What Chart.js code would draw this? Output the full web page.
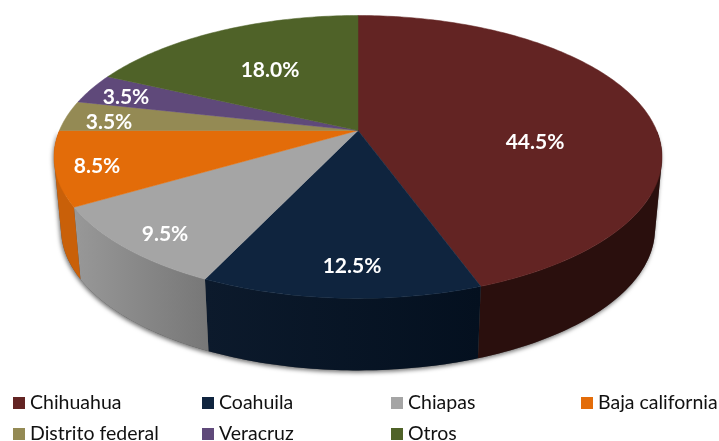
<!DOCTYPE html>
<html>
<head>
<meta charset="utf-8">
<style>
  html, body { margin: 0; padding: 0; background: #fff; }
  canvas { display: block; }
</style>
<script src="https://cdn.jsdelivr.net/npm/chart.js@4/dist/chart.umd.min.js"></script>
</head>
<body>
<canvas id="pie" width="719" height="441"></canvas>
<script>
// Datos
const categories = ['Chihuahua', 'Coahuila', 'Chiapas', 'Baja california', 'Distrito federal', 'Veracruz', 'Otros'];
const shares = [44.5, 12.5, 9.5, 8.5, 3.5, 3.5, 18.0];
const topColors = ['#632423', '#0F243E', '#A5A5A5', '#E36C09', '#948A54', '#5F497A', '#4F6228'];
const wallLeft = ['#2A0F0D', '#0C1A2C', '#989898', '#C96009', '#6E6640', '#47365B', '#3A481D'];
const wallRight = ['#2A0F0D', '#04101F', '#777777', '#C96009', '#6E6640', '#47365B', '#3A481D'];

// Posicion de cada etiqueta y de la leyenda (px)
const labelAnchors = [[535, 142], [352, 266], [165, 234], [97, 166], [109, 122], [126, 97], [270, 70]];
const legendCols = [13, 202, 391, 581, 13, 202, 391];
const legendRows = [403, 403, 403, 403, 434, 434, 434];

// Proyeccion en perspectiva del disco unitario
const CX = 358, CY = 130.5, F = 298.6, G = 136.5, K = 0.187;
function project(a) {
    const u = Math.cos(a), v = Math.sin(a), w = 1 - K * v;
    return { x: CX + F * u / w, y: CY + G * v / w };
}
// disco inferior: misma forma, algo mas estrecho y desplazado hacia abajo
function dropped(p) {
    return { x: CX + (p.x - CX) * 0.977, y: p.y + 72 };
}
function arcPoints(start, end) {
    const n = Math.max(2, Math.ceil((end - start) * 60));
    const pts = [];
    for (let i = 0; i <= n; i++) pts.push(project(start + (end - start) * i / n));
    return pts;
}
function tracePoly(ctx, pts) {
    ctx.beginPath();
    pts.forEach((p, i) => i ? ctx.lineTo(p.x, p.y) : ctx.moveTo(p.x, p.y));
    ctx.closePath();
}
// La pared se traza como tiras con la misma orientacion para que
// no se cancelen en los extremos donde el borde da la vuelta
function traceWall(ctx, rim) {
    ctx.beginPath();
    for (let j = 0; j < rim.length - 1; j++) {
        let q = [rim[j], rim[j + 1], dropped(rim[j + 1]), dropped(rim[j])];
        let area = 0;
        q.forEach((p, n) => {
            const r = q[(n + 1) % 4];
            area += p.x * r.y - r.x * p.y;
        });
        if (area < 0) q = q.reverse();
        q.forEach((p, n) => n ? ctx.lineTo(p.x, p.y) : ctx.moveTo(p.x, p.y));
        ctx.closePath();
    }
}

const pie3d = {
    id: 'pie3d',
    beforeDatasetsDraw(chart) {
        const ctx = chart.ctx;
        const arcs = chart.getDatasetMeta(0).data;
        const visible = arcs.map(arc => {
            // solo la parte frontal del borde
            const lo = Math.max(arc.startAngle, 0), hi = Math.min(arc.endAngle, Math.PI);
            return hi > lo ? [lo, hi] : null;
        });

        // sombra bajo la pared
        ctx.save();
        ctx.shadowColor = 'rgba(0,0,0,0.55)';
        ctx.shadowBlur = 4;
        ctx.shadowOffsetX = -1;
        ctx.shadowOffsetY = 2;
        ctx.fillStyle = '#555';
        traceWall(ctx, arcPoints(0, Math.PI));
        ctx.fill();
        ctx.restore();

        // paredes
        visible.forEach((range, i) => {
            if (!range) return;
            const top = arcPoints(range[0], range[1]);
            const xs = top.concat(top.map(dropped)).map(p => p.x);
            const g = ctx.createLinearGradient(Math.min(...xs), 0, Math.max(...xs), 0);
            g.addColorStop(0, wallLeft[i]);
            g.addColorStop(1, wallRight[i]);
            traceWall(ctx, top);
            ctx.fillStyle = g;
            ctx.fill();
        });

        // cara superior
        arcs.forEach((arc, i) => {
            const pts = [{ x: CX, y: CY }].concat(arcPoints(arc.startAngle, arc.endAngle));
            tracePoly(ctx, pts);
            ctx.fillStyle = topColors[i];
            ctx.strokeStyle = topColors[i];
            ctx.lineWidth = 0.5;
            ctx.fill();
            ctx.stroke();
        });

        // etiquetas
        ctx.save();
        ctx.font = 'bold 21px Lato';
        ctx.fillStyle = '#fff';
        ctx.textAlign = 'center';
        ctx.textBaseline = 'middle';
        shares.forEach((s, i) => {
            ctx.fillText(s.toFixed(1) + '%', labelAnchors[i][0], labelAnchors[i][1]);
        });
        ctx.restore();

        // leyenda
        ctx.save();
        ctx.font = '19.5px Lato';
        ctx.textAlign = 'left';
        ctx.textBaseline = 'middle';
        categories.forEach((name, i) => {
            ctx.fillStyle = topColors[i];
            ctx.fillRect(legendCols[i], legendRows[i] - 6, 12, 12);
            ctx.fillStyle = '#111';
            ctx.fillText(name, legendCols[i] + 17, legendRows[i]);
        });
        ctx.restore();
        return false;
    }
};

new Chart(document.getElementById('pie').getContext('2d'), {
    type: 'pie',
    data: {
        labels: categories,
        datasets: [{ data: shares, backgroundColor: topColors, borderWidth: 0 }]
    },
    options: {
        responsive: false,
        animation: false,
        plugins: {
            legend: { display: false },
            tooltip: { enabled: false }
        }
    },
    plugins: [pie3d]
});
</script>
</body>
</html>
